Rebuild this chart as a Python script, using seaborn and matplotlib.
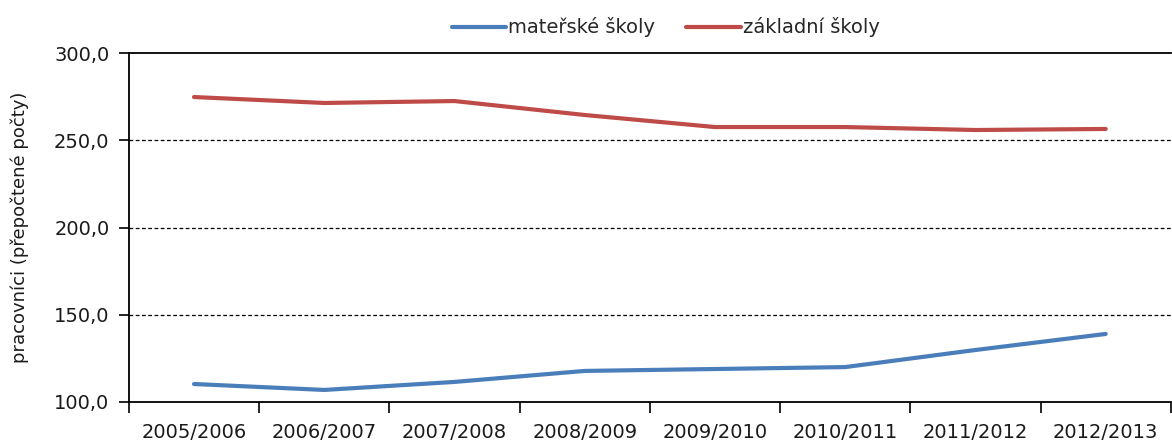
import matplotlib
matplotlib.use("Agg")
import matplotlib.pyplot as plt
import seaborn as sns
import pandas as pd
from matplotlib.ticker import FuncFormatter

years = ['2005/2006', '2006/2007', '2007/2008', '2008/2009',
         '2009/2010', '2010/2011', '2011/2012', '2012/2013']
materske = [110.3, 106.9, 111.5, 117.8, 118.9, 120.0, 129.8, 139.0]
zakladni = [274.8, 271.4, 272.5, 264.5, 257.6, 257.6, 255.9, 256.5]
series_names = ['mateřské školy', 'základní školy']
colors_list = ['#4A7EBB', '#BE4B48']

df = pd.DataFrame({'rok': years * 2,
                   'hodnota': materske + zakladni,
                   'typ': [series_names[0]] * len(years) + [series_names[1]] * len(years)})

sns.set_style(style='white')
plt.rcParams['font.family'] = ['DejaVu Sans']

fig = plt.figure(figsize=(11.72, 4.46), dpi=100)
ax1 = fig.add_axes([0.110, 0.0987, 0.889, 0.7823])
sns.lineplot(x='rok', y='hodnota', hue='typ', data=df, palette=colors_list,
             linewidth=3, ax=ax1, sort=False)

ax1.set_xlim(-0.5, len(years) - 0.5)
ax1.set_ylim(100, 300)
ax1.set_yticks([100, 150, 200, 250, 300])
ax1.yaxis.set_major_formatter(FuncFormatter(lambda v, p: f'{v:.1f}'.replace('.', ',')))
for y in [150, 200, 250]:
    ax1.axhline(y, color='black', linewidth=0.9, linestyle=(0, (3, 2)), zorder=0)

ax1.set_xticks(range(len(years)))
ax1.set_xticklabels(years)
ax1.set_xticks([i - 0.5 for i in range(len(years) + 1)], minor=True)
ax1.tick_params(axis='x', which='major', length=0, pad=15, labelsize=14, colors='#1a1a1a')
ax1.tick_params(axis='x', which='minor', bottom=True, length=8, width=1.2,
                direction='out', color='black')
ax1.tick_params(axis='y', which='major', length=7, width=1.2, direction='out', left=True,
                labelsize=14, colors='black', pad=7)
for lbl in ax1.get_yticklabels():
    lbl.set_color('#1a1a1a')

ax1.set_xlabel('')
ax1.set_ylabel('pracovníci (přepočtené počty)', fontsize=13, labelpad=18, color='#1a1a1a')
for s in ['left', 'bottom', 'top']:
    ax1.spines[s].set_color('black')
    ax1.spines[s].set_linewidth(1.3)
ax1.spines['right'].set_visible(False)

handles, labels = ax1.get_legend_handles_labels()
ax1.legend(handles, labels, ncol=2, loc='lower center', bbox_to_anchor=(0.515, 0.995),
           frameon=False, fontsize=14, handlelength=2.8, handletextpad=0.1,
           columnspacing=1.6)

fig.savefig('out.png', dpi=100)
